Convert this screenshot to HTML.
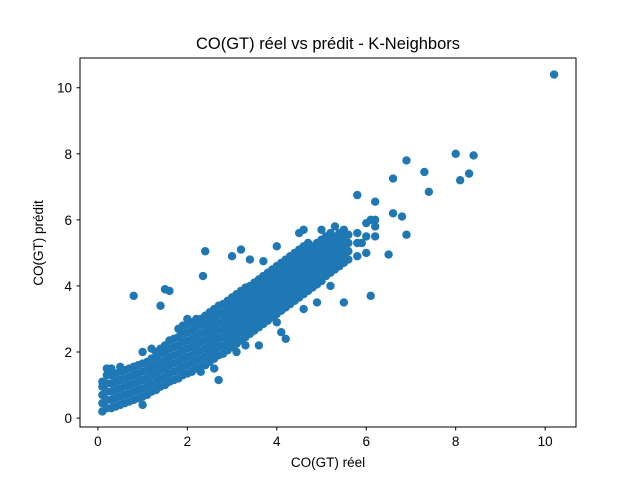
<!DOCTYPE html>
<html><head><meta charset="utf-8"><style>
html,body{margin:0;padding:0;background:#fff;}
svg{display:block;font-family:"Liberation Sans","DejaVu Sans",sans-serif;}
</style></head><body>
<svg id="chart" width="640" height="480">
<rect width="640" height="480" fill="#fff"/>
<text x="328" y="49" text-anchor="middle" font-size="16.5">CO(GT) réel vs prédit - K-Neighbors</text>
<g id="points"></g>
<rect x="80" y="58" width="496" height="369" fill="none" stroke="#000" stroke-width="1"/>
<g id="xticks"></g>
<g id="yticks"></g>
<text x="328" y="467" text-anchor="middle" font-size="13.5">CO(GT) réel</text>
<text x="0" y="0" transform="translate(43,243) rotate(-90)" text-anchor="middle" font-size="13.5">CO(GT) prédit</text>
</svg>
<script>
const bandX=[0.1,0.2,0.3,0.4,0.5,0.6,0.7,0.8,0.9,1.0,1.1,1.2,1.3,1.4,1.5,1.6,1.7,1.8,1.9,2.0,2.1,2.2,2.3,2.4,2.5,2.6,2.7,2.8,2.9,3.0,3.1,3.2,3.3,3.4,3.5,3.6,3.7,3.8,3.9,4.0,4.1,4.2,4.3,4.4,4.5,4.6,4.7,4.8,4.9,5.0,5.1,5.2,5.3,5.4,5.5,5.6,5.8,6.0,6.2];
const bandY=[
[0.2,0.45,0.7,0.95,1.1],[0.3,0.55,0.8,1.05,1.3],[0.3,0.55,0.8,1.05,1.3,1.5],[0.35,0.6,0.85,1.1,1.35],[0.4,0.65,0.9,1.15,1.4],
[0.45,0.7,0.95,1.2,1.45],[0.5,0.75,1.0,1.25,1.5],[0.55,0.8,1.05,1.3,1.55],[0.6,0.85,1.1,1.35,1.6],[0.65,0.9,1.15,1.4,1.65],
[0.7,0.95,1.2,1.45,1.7],[0.8,1.05,1.3,1.55,1.8],[0.85,1.1,1.35,1.6,1.85,2.0],[0.95,1.2,1.45,1.7,1.95,2.1],[1.0,1.25,1.5,1.75,2.0,2.2],
[1.1,1.35,1.6,1.85,2.1,2.35],[1.15,1.4,1.65,1.9,2.15,2.4],[1.2,1.45,1.7,1.95,2.2,2.45,2.7],[1.3,1.55,1.8,2.05,2.3,2.55,2.8],[1.35,1.6,1.85,2.1,2.35,2.6,2.85],
[1.4,1.65,1.9,2.15,2.4,2.65,2.9],[1.5,1.75,2.0,2.25,2.5,2.75,3.0],[1.55,1.8,2.05,2.3,2.55,2.8,3.0],[1.6,1.85,2.1,2.35,2.6,2.85,3.1],[1.7,1.95,2.2,2.45,2.7,2.95,3.2],
[1.8,2.05,2.3,2.55,2.8,3.05,3.3],[1.9,2.15,2.4,2.65,2.9,3.15,3.4],[1.95,2.2,2.45,2.7,2.95,3.2,3.45],[2.05,2.3,2.55,2.8,3.05,3.3,3.55],[2.15,2.4,2.65,2.9,3.15,3.4,3.65],
[2.25,2.5,2.75,3.0,3.25,3.5,3.75],[2.35,2.6,2.85,3.1,3.35,3.6,3.85],[2.45,2.7,2.95,3.2,3.45,3.7,3.95],[2.55,2.8,3.05,3.3,3.55,3.8,4.0],[2.65,2.9,3.15,3.4,3.65,3.9,4.1],
[2.75,3.0,3.25,3.5,3.75,4.0,4.2],[2.85,3.1,3.35,3.6,3.85,4.1,4.3],[2.95,3.2,3.45,3.7,3.95,4.2,4.4],[3.05,3.3,3.55,3.8,4.05,4.3,4.5],[3.15,3.4,3.65,3.9,4.15,4.4,4.6],
[3.25,3.5,3.75,4.0,4.25,4.5,4.7],[3.35,3.6,3.85,4.1,4.35,4.6,4.8],[3.45,3.7,3.95,4.2,4.45,4.7,4.9],[3.55,3.8,4.05,4.3,4.55,4.8,5.0],[3.65,3.9,4.15,4.4,4.65,4.9,5.1],
[3.75,4.0,4.25,4.5,4.75,5.0,5.2],[3.85,4.1,4.35,4.6,4.85,5.1,5.3],[3.95,4.2,4.45,4.7,4.95,5.2],[4.05,4.3,4.55,4.8,5.05,5.3],[4.15,4.4,4.65,4.9,5.15,5.4],
[4.3,4.55,4.8,5.05,5.3,5.5],[4.4,4.65,4.9,5.15,5.4,5.6],[4.5,4.75,5.0,5.25,5.5],[4.6,4.85,5.1,5.35,5.6],[4.7,4.95,5.2,5.45,5.7],
[4.8,5.05,5.3,5.55],[4.9,5.3,5.6],[5.0,5.5,5.9],[5.5,5.8,6.0]];
const outX=[0.8,1.5,1.6,1.4,2.4,2.35,3.0,3.2,2.7,2.5,3.6,4.2,4.1,5.5,6.1,5.8,6.2,6.6,6.8,6.6,6.9,6.9,6.5,7.3,7.4,8.0,8.1,8.3,8.4,10.2,5.9,6.1,5.3,4.6,4.0,1.0,0.5,0.2,1.0,2.0,1.2,3.4,3.7,4.5,5.0,5.5,4.9,5.2,4.6,4.0,3.3,3.1,2.6,2.3];
const outY=[3.7,3.9,3.85,3.4,5.05,4.3,4.9,5.1,1.15,2.9,2.2,2.4,2.6,3.5,3.7,6.75,6.55,6.2,6.1,7.25,7.8,5.55,4.95,7.45,6.85,8.0,7.2,7.4,7.95,10.4,5.3,6.0,5.8,5.7,5.2,0.4,1.55,1.5,2.0,3.0,2.1,4.8,4.75,5.6,5.7,5.65,3.5,4.0,3.3,2.9,2.2,2.0,1.5,1.4];
const xTicks=[0,2,4,6,8,10];
const yTicks=[0,2,4,6,8,10];
const X0=80,X1=576,Y0=427,Y1=58,xmin=-0.4,xmax=10.69,ymin=-0.27,ymax=10.9;
const sx=v=>X0+(v-xmin)/(xmax-xmin)*(X1-X0);
const sy=v=>Y0-(v-ymin)/(ymax-ymin)*(Y0-Y1);
const NS='http://www.w3.org/2000/svg';
const pg=document.getElementById('points');
function dot(x,y){
  const c=document.createElementNS(NS,'circle');
  c.setAttribute('cx',sx(x));c.setAttribute('cy',sy(y));c.setAttribute('r',4.2);c.setAttribute('fill','#1f77b4');
  
  
  pg.appendChild(c);
}
bandX.forEach((x,i)=>bandY[i].forEach(y=>dot(x,y)));
outX.forEach((x,i)=>dot(x,outY[i]));
const xg=document.getElementById('xticks');
xTicks.forEach(t=>{
  const l=document.createElementNS(NS,'line');
  l.setAttribute('x1',sx(t));l.setAttribute('x2',sx(t));l.setAttribute('y1',427);l.setAttribute('y2',430.5);l.setAttribute('stroke','#000');
  
  
  xg.appendChild(l);
  const tx=document.createElementNS(NS,'text');
  tx.setAttribute('x',sx(t));tx.setAttribute('y',446);tx.setAttribute('text-anchor','middle');tx.setAttribute('font-size','13.5');
  tx.textContent=t;
  
  
  xg.appendChild(tx);
});
const yg=document.getElementById('yticks');
yTicks.forEach(t=>{
  const l=document.createElementNS(NS,'line');
  l.setAttribute('x1',76.5);l.setAttribute('x2',80);l.setAttribute('y1',sy(t));l.setAttribute('y2',sy(t));l.setAttribute('stroke','#000');
  
  
  yg.appendChild(l);
  const tx=document.createElementNS(NS,'text');
  tx.setAttribute('x',72);tx.setAttribute('y',sy(t)+5);tx.setAttribute('text-anchor','end');tx.setAttribute('font-size','13.5');
  tx.textContent=t;
  
  
  yg.appendChild(tx);
});
</script>
</body></html>
